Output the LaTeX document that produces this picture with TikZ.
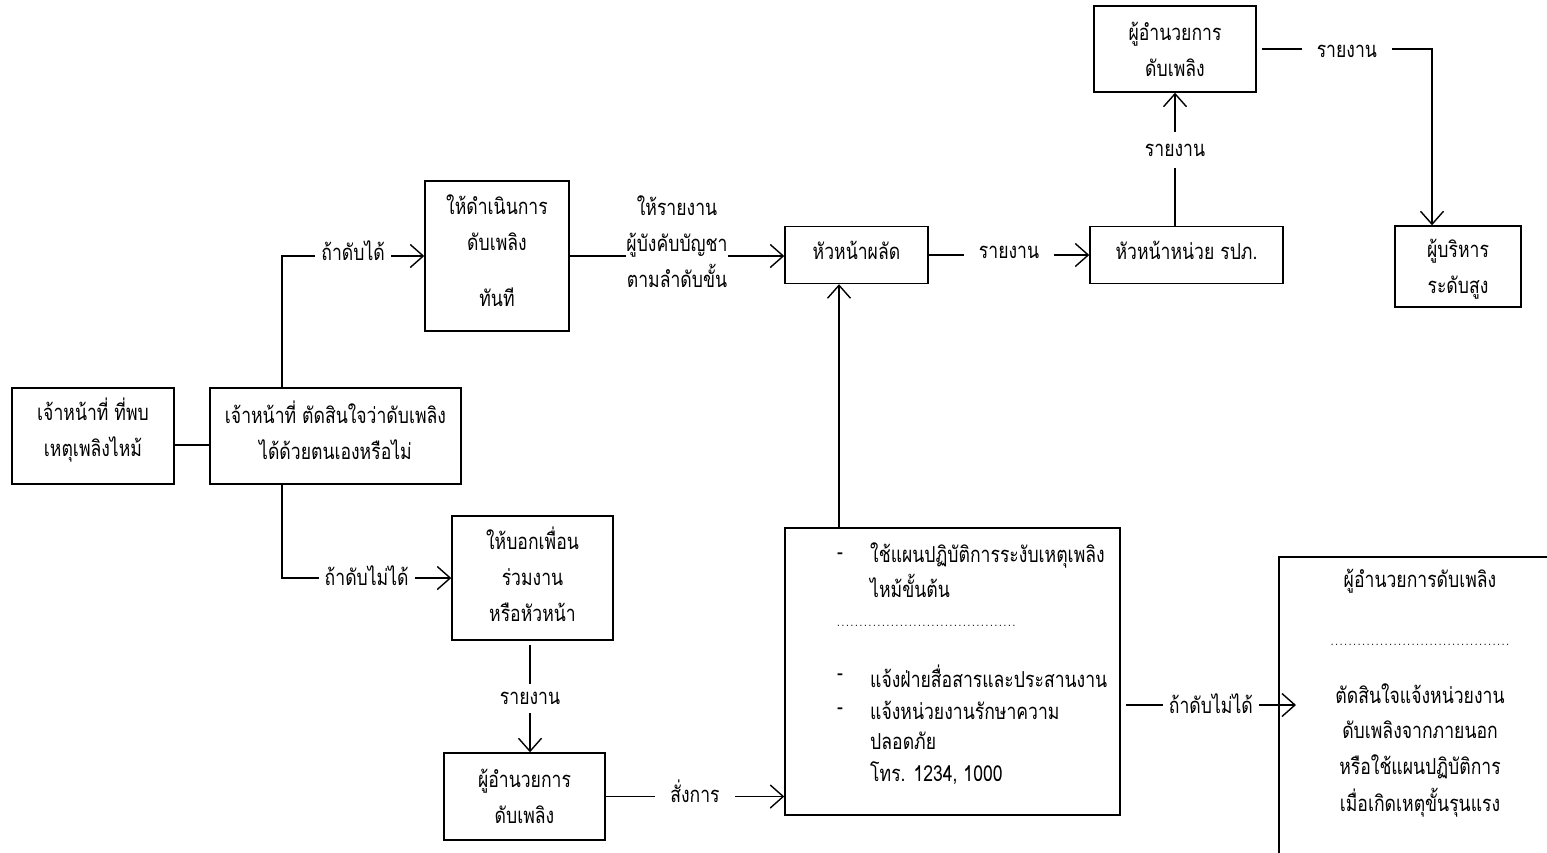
\documentclass[tikz,border=0pt]{standalone}
\usepackage{fontspec}
\setmainfont[Script=Thai,FakeStretch=0.8]{Loma}
\usetikzlibrary{arrows.meta}
\newcommand\dotline[1]{{\fontsize{12}{12}\selectfont\makebox[#1]{\leaders\hbox to 4.5pt{\hss.\hss}\hfill}}}
\begin{document}
\begin{tikzpicture}[x=1pt,y=-1pt,
  every node/.style={font=\fontsize{22}{36}\selectfont},
  box/.style args={#1x#2}{draw, line width=1.4pt, minimum width=#1pt, minimum height=#2pt, inner sep=0pt},
  conn/.style={line width=1.4pt},
  arr/.style={conn, -{Straight Barb[length=13pt,width=23pt,line width=1.4pt]}},
  lbl/.style={fill=white, inner xsep=#1, inner ysep=3pt, align=center},
  lbl/.default=6pt,
  txt/.style={anchor=west, inner sep=0pt},
  ctxt/.style={inner sep=0pt, align=center},
]
\useasboundingbox (0,0) rectangle (1547,852);
\clip (0,0) rectangle (1547,852);

% frames
\node[box=162x96]  (A) at (93,436)     {};
\node[box=251x96]  (B) at (335.5,436)  {};
\node[box=144x150] (C) at (497,256)    {};
\node[box=143x57]  (D) at (856.5,255)  {};
\node[box=193x57]  (E) at (1186.5,255) {};
\node[box=162x86]  (F) at (1175,49)    {};
\node[box=126x81]  (G) at (1458,266.5) {};
\node[box=161x124] (H) at (532.5,578)  {};
\node[box=161x87]  (I) at (524.5,796.5){};
\node[box=335x287] (J) at (952.5,671.5){};
\node[box=330x350] (K) at (1444,732)   {};

% frame texts
\node[ctxt] (At) at (93,430)     {เจ้าหน้าที่ ที่พบ\\เหตุเพลิงไหม้};
\node[ctxt] (Bt) at (335.5,430)  {เจ้าหน้าที่ ตัดสินใจว่าดับเพลิง\\ได้ด้วยตนเองหรือไม่};
\node[ctxt] (Ct) at (497,250.5)  {ให้ดำเนินการ\\ดับเพลิง\\[20pt]ทันที};
\node[ctxt] (Dt) at (856.5,250)  {หัวหน้าผลัด};
\node[ctxt] (Et) at (1186.5,250) {หัวหน้าหน่วย รปภ.};
\node[ctxt] (Ft) at (1175,49)    {ผู้อำนวยการ\\ดับเพลิง};
\node[ctxt] (Gt) at (1458,269)   {ผู้บริหาร\\ระดับสูง};
\node[ctxt] (Ht) at (532.5,574)  {ให้บอกเพื่อน\\ร่วมงาน\\หรือหัวหน้า};
\node[ctxt] (It) at (524.5,796)  {ผู้อำนวยการ\\ดับเพลิง};

% contents of the action box
\node[ctxt] (j1d) at (840,556) {-};
\node[txt]  (j1)  at (870,555) {ใช้แผนปฏิบัติการระงับเหตุเพลิง};
\node[txt]  (j2)  at (870,586) {ไหม้ขั้นต้น};
\node[txt]  (j3)  at (836,626) {\dotline{180pt}};
\node[ctxt] (j4d) at (840,677) {-};
\node[txt]  (j4)  at (870,676) {แจ้งฝ่ายสื่อสารและประสานงาน};
\node[ctxt] (j5d) at (840,711) {-};
\node[txt]  (j5)  at (870,710) {แจ้งหน่วยงานรักษาความ};
\node[txt]  (j6)  at (870,741) {ปลอดภัย};
\node[txt]  (j7)  at (870,773) {โทร. 1234, 1000};

% contents of the escalation box
\node[ctxt] (k1) at (1420,581) {ผู้อำนวยการดับเพลิง};
\node[ctxt] (k2) at (1420,645) {\dotline{180pt}};
\node[ctxt] (k3) at (1420,694) {ตัดสินใจแจ้งหน่วยงาน};
\node[ctxt] (k4) at (1420,730) {ดับเพลิงจากภายนอก};
\node[ctxt] (k5) at (1420,767) {หรือใช้แผนปฏิบัติการ};
\node[ctxt] (k6) at (1420,803) {เมื่อเกิดเหตุขั้นรุนแรง};
\coordinate (kin) at (1296,705);

% connectors
\draw[conn] ([yshift=-9pt]A.east) -- ([yshift=-9pt]B.west);
\draw[arr] ([xshift=-53.5pt]B.north) |- node[lbl,pos=0.75,yshift=5pt]{ถ้าดับได้} (C.west);
\draw[arr] ([xshift=-53.5pt]B.south) |- node[lbl,pos=0.75,yshift=2pt]{ถ้าดับไม่ได้} (H.west);
\draw[arr] (C.east) -- node[lbl,yshift=14pt,inner xsep=0pt]{ให้รายงาน\\ผู้บังคับบัญชา\\ตามลำดับขั้น} (C.east -| D.west);
\draw[arr] (D.east) -- node[lbl=15pt,yshift=3pt]{รายงาน} (E.west);
\draw[arr] (F.south |- E.north) -- node[lbl,yshift=9pt,inner ysep=12pt]{รายงาน} (F.south);
\draw[arr] ([xshift=5pt]F.east) -| node[lbl=15pt,pos=0.25,yshift=-2pt]{รายงาน} ([xshift=-26pt]G.north);
\draw[arr] ([xshift=-2.5pt,yshift=-4pt]H.south) -- node[lbl,inner ysep=8pt]{รายงาน} ([xshift=-2.5pt]H.south |- I.north);
\draw[arr] (I.east) -- node[lbl=15pt,yshift=5pt]{สั่งการ} (I.east -| J.west);
\draw[arr] ([xshift=-113.5pt]J.north) -- ([xshift=-113.5pt]J.north |- D.south);
\draw[arr] ([xshift=5pt,yshift=-33.5pt]J.east) -- node[lbl=6pt,yshift=1pt]{ถ้าดับไม่ได้} (kin);
\end{tikzpicture}
\end{document}
